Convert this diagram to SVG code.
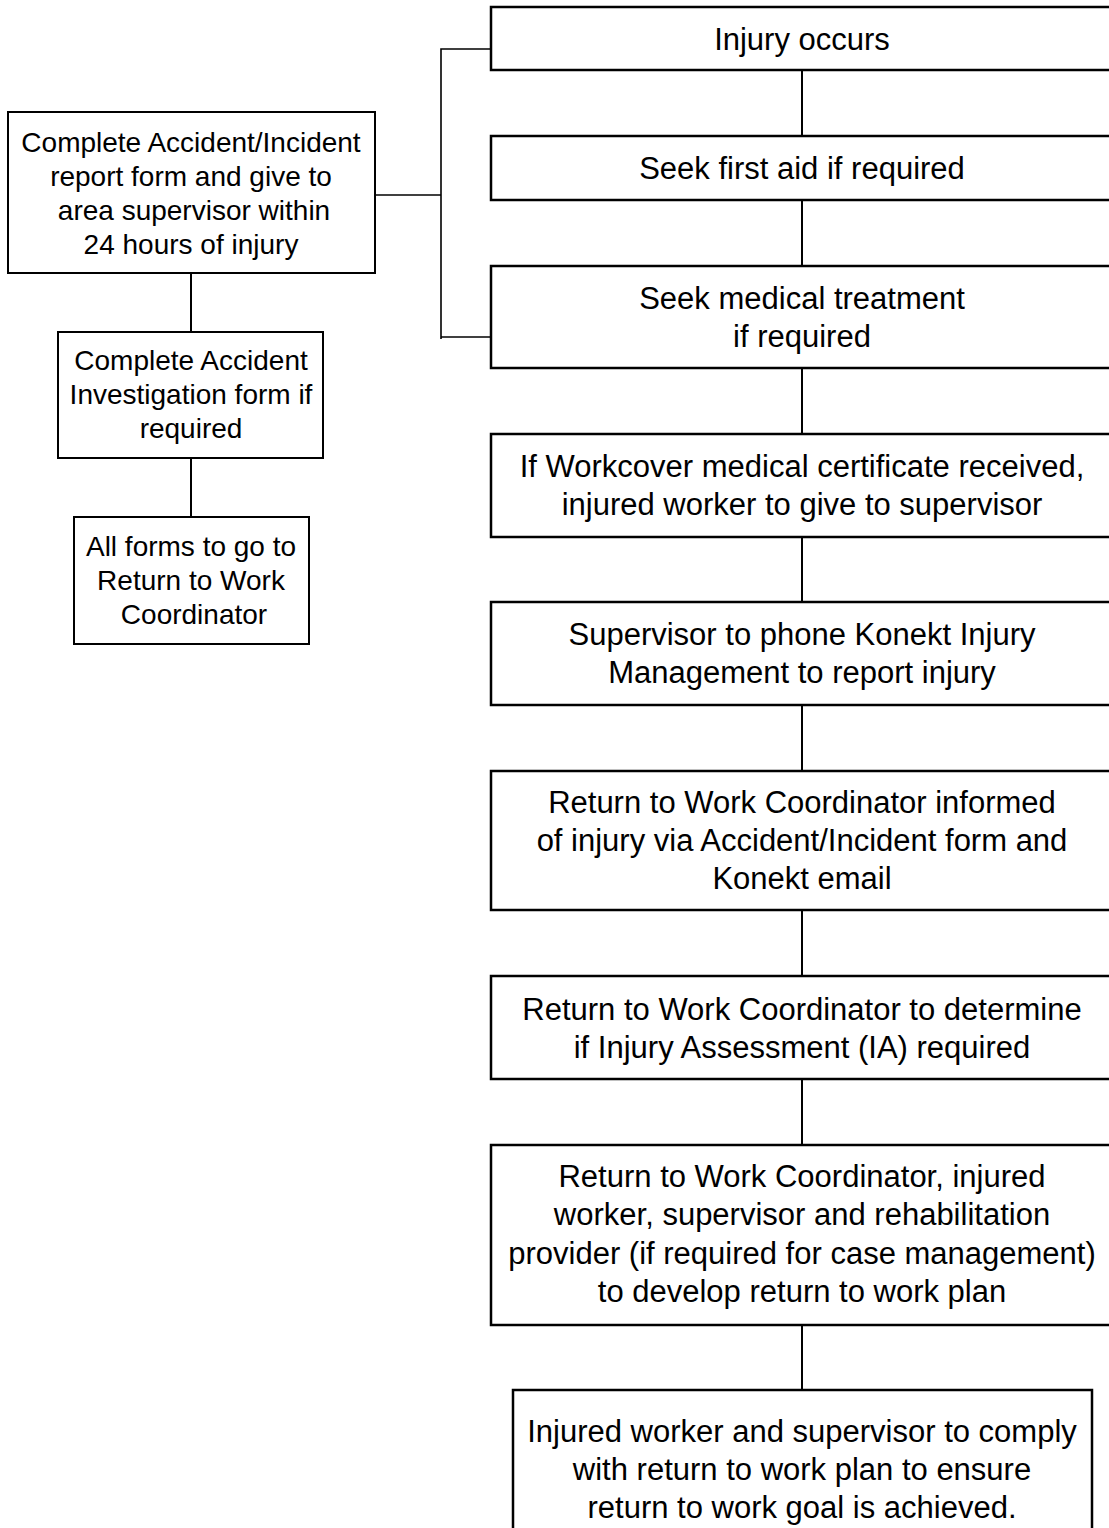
<svg xmlns="http://www.w3.org/2000/svg" width="1109" height="1528" viewBox="0 0 1109 1528">
<style>
.box{fill:#fff;stroke:#000;stroke-width:2.5}
.lbox{fill:#fff;stroke:#000;stroke-width:2}
.t{font-family:"Liberation Sans",Arial,Helvetica,sans-serif;font-size:31px;fill:#000;text-anchor:middle}
.lt{font-family:"Liberation Sans",Arial,Helvetica,sans-serif;font-size:28px;fill:#000;text-anchor:middle}
.c{stroke:#000;stroke-width:2;fill:none}
.b{stroke:#000;stroke-width:1.6;fill:none}
</style>
<rect width="1109" height="1528" fill="#fff"/>
<g id="connectors">
<line class="c" x1="802" y1="70" x2="802" y2="136"/>
<line class="c" x1="802" y1="200" x2="802" y2="266"/>
<line class="c" x1="802" y1="368" x2="802" y2="434"/>
<line class="c" x1="802" y1="537" x2="802" y2="602"/>
<line class="c" x1="802" y1="705" x2="802" y2="771"/>
<line class="c" x1="802" y1="910" x2="802" y2="976"/>
<line class="c" x1="802" y1="1079" x2="802" y2="1145"/>
<line class="c" x1="802" y1="1325" x2="802" y2="1390"/>
<line class="c" x1="191" y1="273" x2="191" y2="332"/>
<line class="c" x1="191" y1="458" x2="191" y2="517"/>
<polyline class="b" points="491,49 441,49 441,339"/>
<line class="b" x1="441" y1="337" x2="491" y2="337"/>
<line class="b" x1="375" y1="195" x2="441" y2="195"/>
</g>
<g id="n1"><rect class="box" x="491" y="7" width="624" height="63"/><text class="t" x="802" y="50">Injury occurs</text></g>
<g id="n2"><rect class="box" x="491" y="136" width="624" height="64"/><text class="t" x="802" y="179">Seek first aid if required</text></g>
<g id="n3"><rect class="box" x="491" y="266" width="624" height="102"/><text class="t" x="802" y="309">Seek medical treatment</text><text class="t" x="802" y="347">if required</text></g>
<g id="n4"><rect class="box" x="491" y="434" width="624" height="103"/><text class="t" x="802" y="477">If Workcover medical certificate received,</text><text class="t" x="802" y="515">injured worker to give to supervisor</text></g>
<g id="n5"><rect class="box" x="491" y="602" width="624" height="103"/><text class="t" x="802" y="645">Supervisor to phone Konekt Injury</text><text class="t" x="802" y="683">Management to report injury</text></g>
<g id="n6"><rect class="box" x="491" y="771" width="624" height="139"/><text class="t" x="802" y="813">Return to Work Coordinator informed</text><text class="t" x="802" y="851">of injury via Accident/Incident form and</text><text class="t" x="802" y="889">Konekt email</text></g>
<g id="n7"><rect class="box" x="491" y="976" width="624" height="103"/><text class="t" x="802" y="1020">Return to Work Coordinator to determine</text><text class="t" x="802" y="1058">if Injury Assessment (IA) required</text></g>
<g id="n8"><rect class="box" x="491" y="1145" width="624" height="180"/><text class="t" x="802" y="1187">Return to Work Coordinator, injured</text><text class="t" x="802" y="1225">worker, supervisor and rehabilitation</text><text class="t" x="802" y="1264">provider (if required for case management)</text><text class="t" x="802" y="1302">to develop return to work plan</text></g>
<g id="n9"><rect class="box" x="513" y="1390" width="579" height="160"/><text class="t" x="802" y="1442">Injured worker and supervisor to comply</text><text class="t" x="802" y="1480">with return to work plan to ensure</text><text class="t" x="802" y="1518">return to work goal is achieved.</text></g>
<g id="nA"><rect class="lbox" x="8" y="112" width="367" height="161"/><text class="lt" x="191" y="152">Complete Accident/Incident</text><text class="lt" x="191" y="186">report form and give to</text><text class="lt" x="194" y="220">area supervisor within</text><text class="lt" x="191" y="254">24 hours of injury</text></g>
<g id="nB"><rect class="lbox" x="58" y="332" width="265" height="126"/><text class="lt" x="191" y="370">Complete Accident</text><text class="lt" x="191" y="404">Investigation form if</text><text class="lt" x="191" y="438">required</text></g>
<g id="nC"><rect class="lbox" x="74" y="517" width="235" height="127"/><text class="lt" x="191" y="556">All forms to go to</text><text class="lt" x="191" y="590">Return to Work</text><text class="lt" x="194" y="624">Coordinator</text></g>
</svg>
